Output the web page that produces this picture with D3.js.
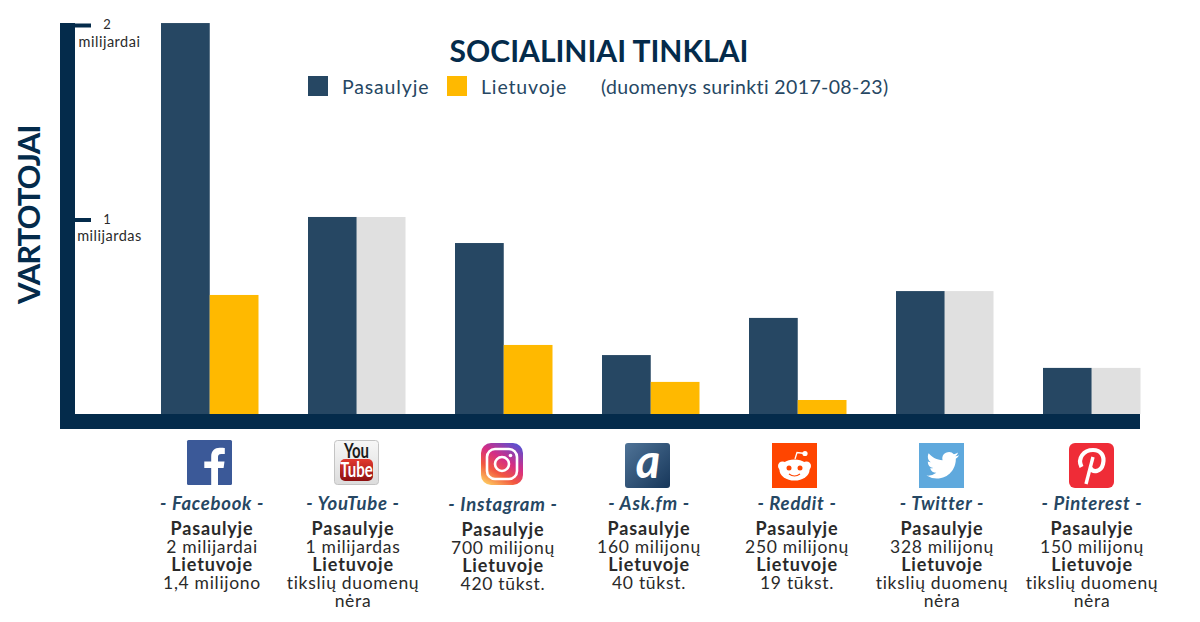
<!DOCTYPE html>
<html>
<head>
<meta charset="utf-8">
<script src="https://cdn.jsdelivr.net/npm/d3@7"></script>
<style>
  html, body { margin: 0; padding: 0; background: #fff; }
  svg { display: block; }
  text { font-family: Lato, "Open Sans", sans-serif; }
</style>
</head>
<body>
<div id="chart"></div>
<script>
var networks = ["Facebook", "YouTube", "Instagram", "Ask.fm", "Reddit", "Twitter", "Pinterest"];
var world = [2.01, 1.013, 0.879, 0.303, 0.494, 0.632, 0.237];
var lithuania = [0.612, null, 0.355, 0.165, 0.072, null, null];
var worldLabels = ["2 milijardai", "1 milijardas", "700 milijonų", "160 milijonų", "250 milijonų", "328 milijonų", "150 milijonų"];
var lithuaniaLabels = ["1,4 milijono", "tikslių duomenų|nėra", "420 tūkst.", "40 tūkst.", "19 tūkst.", "tikslių duomenų|nėra", "tikslių duomenų|nėra"];
var tickValues = [1, 2];
var tickLabels = ["milijardas", "milijardai"];
var legendItems = ["Pasaulyje", "Lietuvoje"];

var labelCenters = [212, 353, 503, 649, 797, 942, 1092];
var iconLeft = [187, 334, 481, 625, 772, 919, 1069];
var iconTop = [440, 440, 443, 443, 443, 443, 443];

var navy = "#042b4b", blue = "#264763", gold = "#ffb900", grey = "#e0e0e0", ink = "#2a2a2a";

var svg = d3.select("#chart").append("svg").attr("width", 1200).attr("height", 622);
var defs = svg.append("defs");

var x = d3.scaleBand().domain(networks).range([161, 1140.5]).paddingInner(49.5 / 147);
var y = d3.scaleLinear().domain([0, 2]).range([414, 25]);

// bars
var groups = svg.selectAll("g.network").data(networks).enter().append("g")
  .attr("class", "network")
  .attr("transform", function(d) { return "translate(" + x(d) + ",0)"; });

groups.append("rect")
  .attr("width", x.bandwidth() / 2)
  .attr("y", function(d, i) { return y(world[i]); })
  .attr("height", function(d, i) { return y(0) - y(world[i]); })
  .attr("fill", blue);

// no exact Lithuanian figure: grey bar as tall as the world one
groups.append("rect")
  .attr("x", x.bandwidth() / 2)
  .attr("width", x.bandwidth() / 2)
  .attr("y", function(d, i) { return y(lithuania[i] === null ? world[i] : lithuania[i]); })
  .attr("height", function(d, i) { return y(0) - y(lithuania[i] === null ? world[i] : lithuania[i]); })
  .attr("fill", function(d, i) { return lithuania[i] === null ? grey : gold; });

// axes
svg.append("rect").attr("x", 60).attr("y", 23).attr("width", 15).attr("height", 406).attr("fill", navy);
svg.append("rect").attr("x", 60).attr("y", 414).attr("width", 1080).attr("height", 15).attr("fill", navy);

var yAxis = svg.append("g")
  .attr("transform", "translate(75,0)")
  .call(d3.axisRight(y).tickValues(tickValues).tickSize(16).tickFormat(""));
yAxis.select(".domain").remove();
yAxis.selectAll(".tick line").attr("stroke", navy).attr("stroke-width", 4);

tickValues.forEach(function(v, i) {
  svg.append("text").attr("x", 107).attr("y", y(v) + 4)
    .attr("text-anchor", "middle").attr("font-size", 13).attr("fill", ink).text(v);
  svg.append("text").attr("x", 109.5).attr("y", y(v) + 21.5)
    .attr("text-anchor", "middle").attr("font-size", 14.5).attr("letter-spacing", 0.5).attr("fill", ink).text(tickLabels[i]);
});

svg.append("text")
  .attr("transform", "translate(40,304) rotate(-90)")
  .attr("font-size", 31).attr("font-weight", 700).attr("letter-spacing", -1).attr("fill", navy).text("VARTOTOJAI");

// title and legend
svg.append("text").attr("x", 599).attr("y", 62).attr("text-anchor", "middle")
  .attr("font-size", 30).attr("font-weight", 700).attr("fill", navy).text("SOCIALINIAI TINKLAI");

var legendX = [308, 447], legendTextX = [342, 481], legendColors = [blue, gold];
legendItems.forEach(function(d, i) {
  svg.append("rect").attr("x", legendX[i]).attr("y", 76).attr("width", 20).attr("height", 20).attr("fill", legendColors[i]);
  svg.append("text").attr("x", legendTextX[i]).attr("y", 93.5).attr("font-size", 19.5).attr("letter-spacing", 0.85).attr("fill", blue).text(d);
});
svg.append("text").attr("x", 601).attr("y", 93.5).attr("font-size", 19.5).attr("letter-spacing", 0.37).attr("fill", blue).text("(duomenys surinkti 2017-08-23)");

// captions under the icons
networks.forEach(function(name, i) {
  var g = svg.append("g").attr("transform", "translate(" + labelCenters[i] + ",0)").attr("text-anchor", "middle");
  var shift = name === "Instagram" ? 1 : 0;
  g.append("text").attr("y", 510 + shift).attr("font-size", 18.5).attr("font-weight", 700)
    .attr("font-style", "italic").attr("letter-spacing", 0.75).attr("fill", blue).text("- " + name + " -");
  var lines = [["Pasaulyje", true], [worldLabels[i], false], ["Lietuvoje", true]];
  lithuaniaLabels[i].split("|").forEach(function(l) { lines.push([l, false]); });
  lines.forEach(function(l, k) {
    g.append("text").attr("y", 534.5 + shift + k * 18.2)
      .attr("font-size", l[1] ? 18 : 17.5)
      .attr("font-weight", l[1] ? 700 : 400)
      .attr("letter-spacing", l[1] ? 0.85 : 0.7)
      .attr("fill", ink).text(l[0]);
  });
});

// icons, each drawn in a 45x45 box
function gradient(id, x2, y2, stops) {
  var g = defs.append("linearGradient").attr("id", id).attr("x1", 0).attr("y1", 0).attr("x2", x2).attr("y2", y2);
  stops.forEach(function(s) { g.append("stop").attr("offset", s[0]).attr("stop-color", s[1]); });
}
gradient("igGrad", 0.75, -0.75, [[0, "#fdc45e"], [0.3, "#f2583f"], [0.6, "#d52d85"], [1, "#5a50d0"]]);
defs.select("#igGrad").attr("x1", 0.2).attr("y1", 1).attr("x2", 0.8).attr("y2", 0);
gradient("askGrad", 1, 1, [[0, "#4f7397"], [1, "#17375a"]]);
gradient("ytGrad", 0, 1, [[0, "#e33a30"], [1, "#8d0f10"]]);
gradient("ytBg", 0, 1, [[0, "#f7f7f7"], [1, "#dcdcdc"]]);

var icons = {
  "Facebook": function(g) {
    g.append("rect").attr("width", 45).attr("height", 45).attr("rx", 1.5).attr("fill", "#3b5998");
    g.append("path").attr("fill", "#fff")
      .attr("d", "M31 45V28h5.6l.9-6.6H31v-4.2c0-1.9.5-3.2 3.3-3.2h3.5V8.1c-.6-.1-2.7-.3-5.1-.3-5 0-8.5 3.1-8.5 8.7v4.9h-6.9V28h6.9v17z");
  },
  "YouTube": function(g) {
    g.append("rect").attr("x", 0.5).attr("y", 0.5).attr("width", 44).attr("height", 44).attr("rx", 3)
      .attr("fill", "url(#ytBg)").attr("stroke", "#c4c4c4");
    g.append("text").attr("x", 30).attr("y", 17.5).attr("text-anchor", "middle")
      .attr("font-size", 20).attr("font-weight", 700).attr("fill", "#1c1c1c")
      .attr("transform", "scale(0.75,1)").text("You");
    g.append("rect").attr("x", 6).attr("y", 19).attr("width", 33).attr("height", 22).attr("rx", 5).attr("fill", "url(#ytGrad)");
    g.append("text").attr("x", 31.5).attr("y", 37.5).attr("text-anchor", "middle")
      .attr("font-size", 21).attr("font-weight", 700).attr("fill", "#fff")
      .attr("transform", "scale(0.715,1)").text("Tube");
  },
  "Instagram": function(g) {
    g.append("rect").attr("width", 42).attr("height", 42).attr("rx", 10).attr("fill", "url(#igGrad)");
    g.append("rect").attr("x", 6).attr("y", 6).attr("width", 30).attr("height", 30).attr("rx", 8)
      .attr("fill", "none").attr("stroke", "#fff").attr("stroke-width", 2.6);
    g.append("circle").attr("cx", 21).attr("cy", 21).attr("r", 7).attr("fill", "none").attr("stroke", "#fff").attr("stroke-width", 2.6);
    g.append("circle").attr("cx", 29.5).attr("cy", 12.5).attr("r", 1.8).attr("fill", "#fff");
  },
  "Ask.fm": function(g) {
    g.append("rect").attr("width", 45).attr("height", 45).attr("rx", 3).attr("fill", "url(#askGrad)");
    g.append("text").attr("x", 23).attr("y", 35).attr("text-anchor", "middle")
      .attr("font-size", 47).attr("font-weight", 700).attr("font-style", "italic").attr("fill", "#fff").text("a");
  },
  "Reddit": function(g) {
    g.append("rect").attr("width", 45).attr("height", 45).attr("fill", "#ff4500");
    g.append("path").attr("fill", "none").attr("stroke", "#fff").attr("stroke-width", 1.3).attr("d", "M23 16L25 9.5L33 10.5");
    g.append("circle").attr("cx", 33).attr("cy", 10.5).attr("r", 2.6).attr("fill", "#fff");
    g.append("circle").attr("cx", 10.5).attr("cy", 23).attr("r", 4.5).attr("fill", "#fff");
    g.append("circle").attr("cx", 34.5).attr("cy", 23).attr("r", 4.5).attr("fill", "#fff");
    g.append("ellipse").attr("cx", 22.5).attr("cy", 27).attr("rx", 15).attr("ry", 10.5).attr("fill", "#fff");
    g.append("circle").attr("cx", 17).attr("cy", 25).attr("r", 2.5).attr("fill", "#ff4500");
    g.append("circle").attr("cx", 28).attr("cy", 25).attr("r", 2.5).attr("fill", "#ff4500");
    g.append("path").attr("fill", "none").attr("stroke", "#ff4500").attr("stroke-width", 1.2).attr("d", "M17 31Q22.5 35 28 31");
  },
  "Twitter": function(g) {
    g.append("rect").attr("width", 45).attr("height", 45).attr("fill", "#5fa9dd");
    g.append("path").attr("fill", "#fff").attr("transform", "translate(7.5,6) scale(1.36)")
      .attr("d", "M23.953 4.57a10 10 0 01-2.825.775 4.958 4.958 0 002.163-2.723c-.951.555-2.005.959-3.127 1.184a4.92 4.92 0 00-8.384 4.482C7.69 8.095 4.067 6.13 1.64 3.162a4.822 4.822 0 00-.666 2.475c0 1.71.87 3.213 2.188 4.096a4.904 4.904 0 01-2.228-.616v.06a4.923 4.923 0 003.946 4.827 4.996 4.996 0 01-2.212.085 4.936 4.936 0 004.604 3.417 9.867 9.867 0 01-6.102 2.105c-.39 0-.779-.023-1.17-.067a13.995 13.995 0 007.557 2.209c9.053 0 13.998-7.496 13.998-13.985 0-.21 0-.42-.015-.63A9.935 9.935 0 0024 4.59z");
  },
  "Pinterest": function(g) {
    g.append("rect").attr("width", 45).attr("height", 45).attr("rx", 6).attr("fill", "#ef2c37");
    g.append("path").attr("fill", "none").attr("stroke", "#fff").attr("stroke-width", 4.2)
      .attr("d", "M12.5 24C8 15 15 7 24 7C32 7 36 13 34 21C32 29 24 30 21.5 25");
    g.append("path").attr("fill", "none").attr("stroke", "#fff").attr("stroke-width", 3.4).attr("d", "M24 14L17 41");
  }
};

networks.forEach(function(name, i) {
  icons[name](svg.append("g").attr("transform", "translate(" + iconLeft[i] + "," + iconTop[i] + ")"));
});
</script>
</body>
</html>
